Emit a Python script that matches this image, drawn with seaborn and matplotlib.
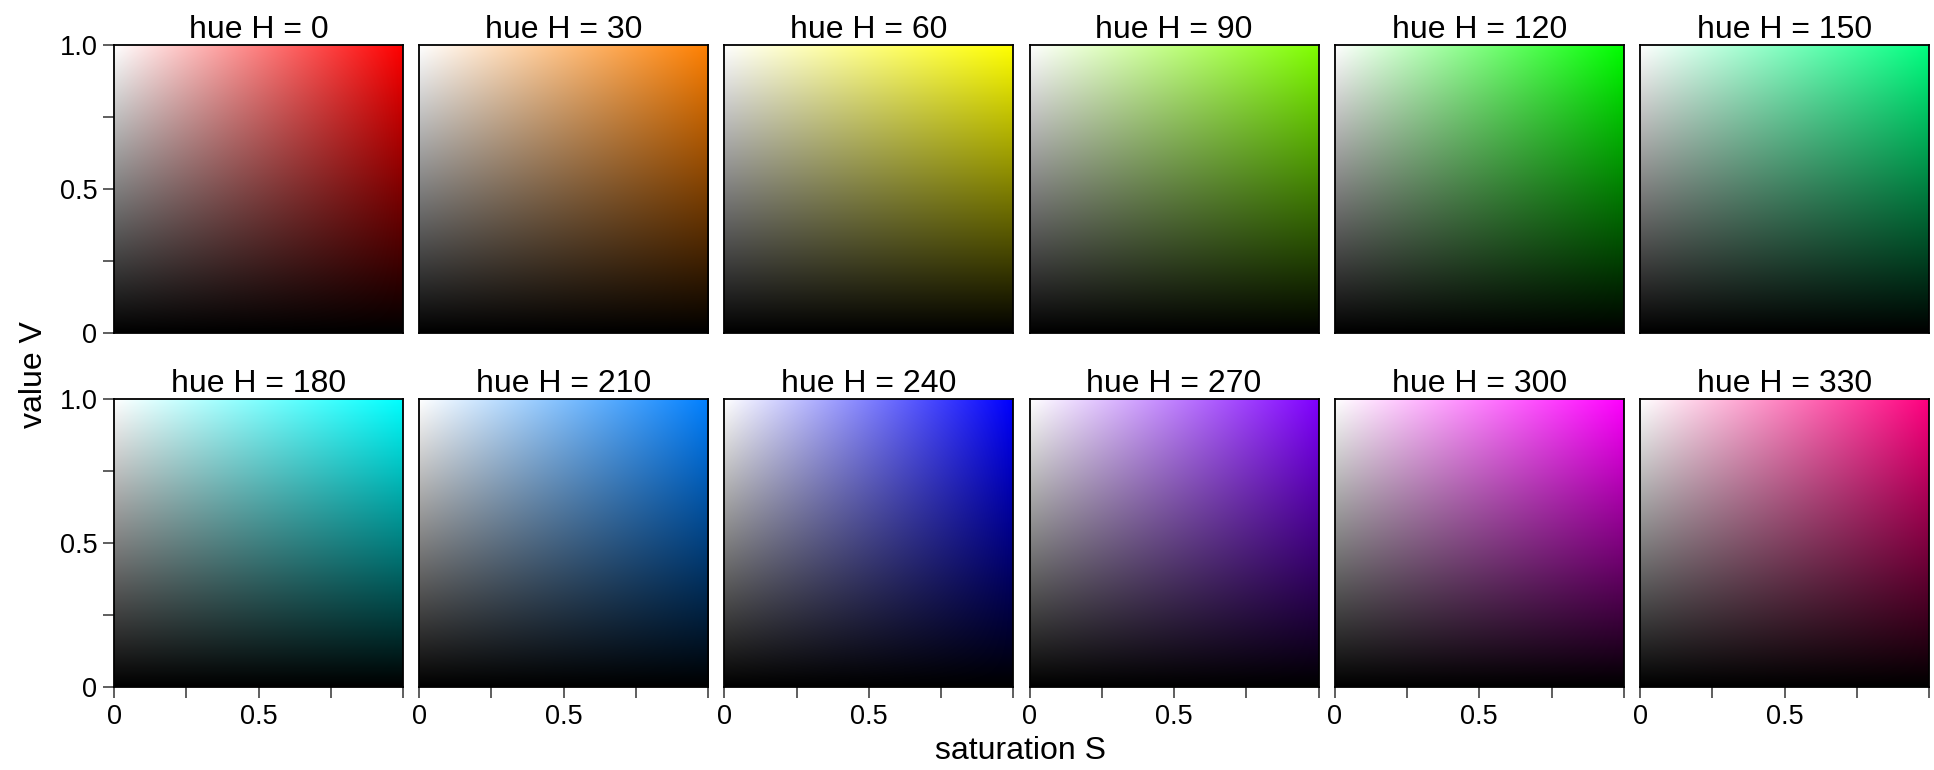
import numpy as np
import matplotlib
matplotlib.use("Agg")
import matplotlib.pyplot as plt
from matplotlib.colors import hsv_to_rgb
import seaborn as sns

# ---- data ----
hues = [0, 30, 60, 90, 120, 150, 180, 210, 240, 270, 300, 330]
x_tick_vals = [0, 0.25, 0.5, 0.75, 1.0]
x_tick_labels = ["0", "", "0.5", "", ""]
y_tick_vals = [0, 0.25, 0.5, 0.75, 1.0]
y_tick_labels = ["0", "", "0.5", "", "1.0"]
n_grid = 256  # image resolution for saturation / value sampling

sns.set_theme(style="ticks")
plt.rcParams['font.family'] = ['Liberation Sans', 'DejaVu Sans']
plt.rcParams['text.color'] = 'black'
plt.rcParams['xtick.labelcolor'] = 'black'
plt.rcParams['ytick.labelcolor'] = 'black'

W, H = 1934, 770
fig = plt.figure(figsize=(W / 100, H / 100), dpi=100)

left0, axw, gap = 114, 289, 16.2
tops = [45, 399]
axh = 288

S = np.linspace(0, 1, n_grid)
V = np.linspace(0, 1, n_grid)
SS, VV = np.meshgrid(S, V)

for i, h in enumerate(hues):
    r, c = divmod(i, 6)
    x0 = left0 + c * (axw + gap)
    y0 = tops[r]
    ax = fig.add_axes([x0 / W, 1 - (y0 + axh) / H, axw / W, axh / H])
    hsv = np.dstack([np.full_like(SS, h / 360.0), SS, VV])
    rgb = hsv_to_rgb(hsv)
    ax.imshow(rgb, origin="lower", extent=[0, 1, 0, 1], aspect="auto",
              interpolation="bilinear")
    ax.set_xlim(0, 1)
    ax.set_ylim(0, 1)
    ax.set_title(f"hue H = {h}", fontsize=23, pad=5, color="black")
    for sp in ax.spines.values():
        sp.set_linewidth(1.3)
        sp.set_color("black")
    ax.tick_params(length=8, width=1.1, color="#333333", labelsize=19.5,
                   direction="out", pad=4)
    if c == 0:
        ax.set_yticks(y_tick_vals)
        ax.set_yticklabels(y_tick_labels)
    else:
        ax.set_yticks([])
    if r == 1:
        ax.set_xticks(x_tick_vals)
        ax.set_xticklabels(x_tick_labels)
    else:
        ax.set_xticks([])

fig.text(34 / W, 1 - 375 / H, "value V", rotation=90, fontsize=23,
         ha="center", va="center", color="black")
fig.text(1020 / W, 1 - 751 / H, "saturation S", fontsize=23,
         ha="center", va="center", color="black")

fig.savefig("out.png", dpi=100, facecolor="white")
